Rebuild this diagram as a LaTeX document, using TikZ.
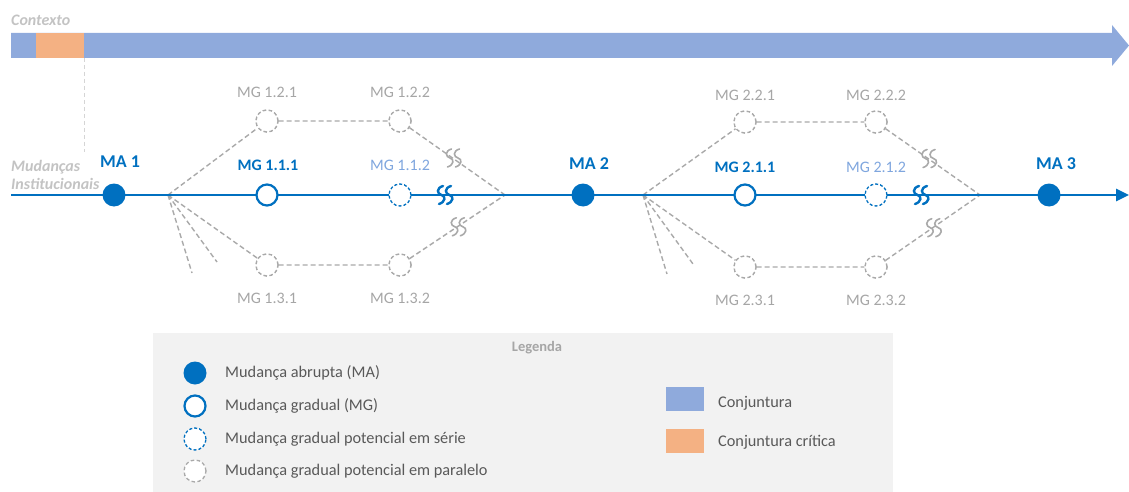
\documentclass[tikz,border=0pt]{standalone}
\usepackage{fontspec}
\setmainfont{Carlito}
\usetikzlibrary{arrows.meta}
\definecolor{mablue}{HTML}{0070C0}
\definecolor{potblue}{HTML}{7FA6DE}
\definecolor{pargray}{HTML}{A9A9A9}
\definecolor{labgray}{HTML}{A6A6A6}
\definecolor{ctxgray}{HTML}{C3C3C3}
\definecolor{legtext}{HTML}{595959}
\definecolor{legfill}{HTML}{F2F2F2}
\definecolor{barblue}{HTML}{8FAADC}
\definecolor{barorange}{HTML}{F4B183}
\tikzset{
  ma/.style={circle,fill=mablue,minimum size=23pt,inner sep=0pt},
  mg/.style={circle,draw=mablue,line width=2.2pt,fill=white,minimum size=21pt,inner sep=0pt},
  mgs/.style={circle,draw=mablue,line width=1.3pt,dash pattern=on 3pt off 2pt,fill=white,minimum size=22pt,inner sep=0pt},
  mgp/.style={circle,draw=pargray,line width=1.3pt,dash pattern=on 3.5pt off 2.5pt,fill=white,minimum size=22pt,inner sep=0pt},
  parline/.style={draw=pargray,line width=1.4pt,dash pattern=on 5pt off 3pt},
  graybrk/.style={draw=pargray,solid,line width=1.6pt},
  malab/.style={text=mablue,font=\fontsize{18}{20}\selectfont\bfseries,inner sep=0pt},
  mglab/.style={text=mablue,font=\fontsize{16}{18}\selectfont\bfseries,inner sep=0pt},
  potlab/.style={text=potblue,font=\fontsize{16}{18}\selectfont,inner sep=0pt},
  parlab/.style={text=labgray,font=\fontsize{16}{18}\selectfont,inner sep=0pt},
  sidelab/.style={text=ctxgray,font=\fontsize{16}{19}\selectfont\bfseries\itshape,inner sep=0pt,align=left},
  legitem/.style={text=legtext,font=\fontsize{16.3}{18}\selectfont,anchor=west,inner sep=0pt},
  junction/.style={coordinate},
  % break mark: two S-shaped strokes
  brk/.pic={
    \draw[pic actions,line cap=round] (-1,-9) .. controls (-8,-7) and (-7,-1) .. (-2.5,0) .. controls (2,1) and (1.5,7) .. (-5,9);
    \draw[pic actions,line cap=round] (7,-9) .. controls (0,-7) and (1,-1) .. (5.5,0) .. controls (10,1) and (9.5,7) .. (3,9);
  },
}
\begin{document}
\begin{tikzpicture}[x=1pt,y=-1pt]
\useasboundingbox (0,0) rectangle (1129,492);

% context bar with its arrow head and the critical juncture
\fill[barblue] (11,33) -- (1112,33) -- (1112,25) -- (1129,45.5) -- (1112,66) -- (1112,58) -- (11,58) -- cycle;
\fill[barorange] (36,33) rectangle (84,58);
\draw[ctxgray!70,line width=0.6pt,dash pattern=on 4pt off 3pt] (84,58) -- (84,152);
\node[sidelab,anchor=west] (ctx) at (11,20) {Contexto};
\node[sidelab,anchor=west] (inst) at (11,175) {Mudanças\\[-1pt]Institucionais};

% main timeline
\coordinate (tlstart) at (11,195);
\coordinate (tlend) at (1129,195);

% branching and merging points
\coordinate[junction] (b1) at (168,195);
\coordinate[junction] (m1) at (505,195);
\coordinate[junction] (b2) at (643,195);
\coordinate[junction] (m2) at (980,195);
\coordinate (f1a) at (192,273);
\coordinate (f1b) at (217,262);
\coordinate (f2a) at (667,274);
\coordinate (f2b) at (693,264);

% parallel gradual changes
\node[mgp] (g121) at (267,121) {};
\node[mgp] (g122) at (400,121) {};
\node[mgp] (g131) at (267,265) {};
\node[mgp] (g132) at (400,265) {};
\node[mgp] (g221) at (745,122) {};
\node[mgp] (g222) at (876,122) {};
\node[mgp] (g231) at (745,267) {};
\node[mgp] (g232) at (876,267) {};

\draw[parline] (b1) -- (g121) -- (g122) -- (m1) pic[pos=0.45,graybrk]{brk};
\draw[parline] (b1) -- (g131) -- (g132) -- (m1) pic[pos=0.5,graybrk]{brk};
\draw[parline] (b1) -- (f1a);
\draw[parline] (b1) -- (f1b);
\draw[parline] (b2) -- (g221) -- (g222) -- (m2) pic[pos=0.45,graybrk]{brk};
\draw[parline] (b2) -- (g231) -- (g232) -- (m2) pic[pos=0.5,graybrk]{brk};
\draw[parline] (b2) -- (f2a);
\draw[parline] (b2) -- (f2b);

\draw[mablue,line width=2.6pt,-{Triangle[length=13pt,width=12pt]}] (tlstart) -- (tlend);
\pic[draw=mablue,line width=2.4pt] at (444,195) {brk};
\pic[draw=mablue,line width=2.4pt] at (920,195) {brk};

% redraw the parallel circles above the lines
\foreach \n in {g121,g122,g131,g132,g221,g222,g231,g232}
  \node[mgp] at (\n) {};

% abrupt and gradual changes on the timeline
\node[ma] (ma1) at (114,195) {};
\node[ma] (ma2) at (583,195) {};
\node[ma] (ma3) at (1049,195) {};
\node[mg] (g111) at (267,195) {};
\node[mgs] (g112) at (400,195) {};
\node[mg] (g211) at (745,195) {};
\node[mgs] (g212) at (876,195) {};

% labels
\node[malab] (lma1) at (120,162) {MA 1};
\node[malab] (lma2) at (589,164) {MA 2};
\node[malab] (lma3) at (1056,164) {MA 3};
\node[mglab] (l111) at (268,165) {MG 1.1.1};
\node[potlab] (l112) at (400,165) {MG 1.1.2};
\node[mglab] (l211) at (745,167) {MG 2.1.1};
\node[potlab] (l212) at (876,167) {MG 2.1.2};
\node[parlab] (l121) at (267,92) {MG 1.2.1};
\node[parlab] (l122) at (400,92) {MG 1.2.2};
\node[parlab] (l131) at (267,298) {MG 1.3.1};
\node[parlab] (l132) at (400,298) {MG 1.3.2};
\node[parlab] (l221) at (745,95) {MG 2.2.1};
\node[parlab] (l222) at (876,95) {MG 2.2.2};
\node[parlab] (l231) at (745,300) {MG 2.3.1};
\node[parlab] (l232) at (876,300) {MG 2.3.2};

% legend
\fill[legfill] (153,333) rectangle (893,492);
\node[text=labgray,font=\fontsize{14.5}{16}\selectfont\bfseries,inner sep=0pt] (legtitle) at (537,348) {Legenda};
\node[ma] (k1) at (195,373) {};
\node[mg] (k2) at (195,406) {};
\node[mgs] (k3) at (195,439) {};
\node[mgp] (k4) at (195,471) {};
\node[legitem] (t1) at (225,373) {Mudança abrupta (MA)};
\node[legitem] (t2) at (225,406) {Mudança gradual (MG)};
\node[legitem] (t3) at (225,439) {Mudança gradual potencial em série};
\node[legitem] (t4) at (225,471) {Mudança gradual potencial em paralelo};
\fill[barblue] (666,387) rectangle (704,411);
\fill[barorange] (666,429) rectangle (704,453);
\node[legitem] (t5) at (718,403) {Conjuntura};
\node[legitem] (t6) at (718,442) {Conjuntura crítica};
\end{tikzpicture}
\end{document}
